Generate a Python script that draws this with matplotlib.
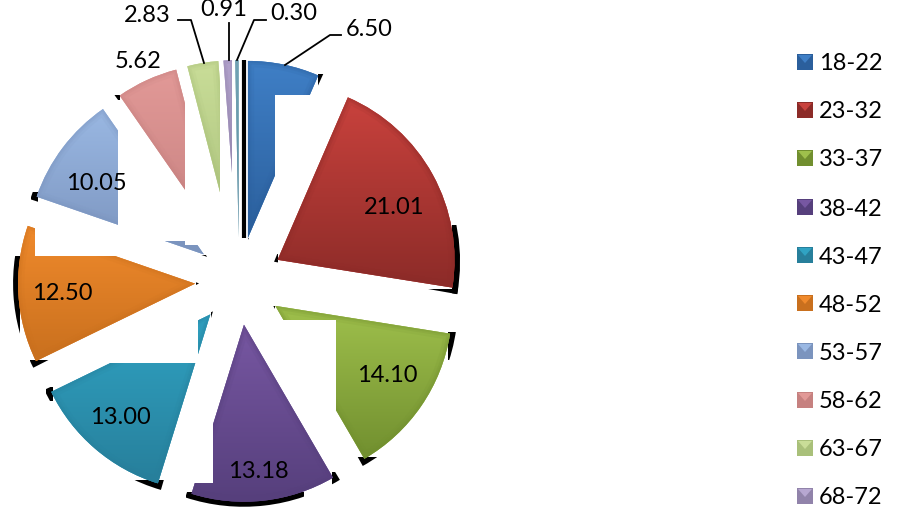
import matplotlib
matplotlib.use('Agg')
import matplotlib.pyplot as plt
from matplotlib.colors import to_rgb
from matplotlib.patches import Polygon, Rectangle, Wedge
import numpy as np

# data
legend_groups = ['18-22', '23-32', '33-37', '38-42', '43-47', '48-52', '53-57', '58-62', '63-67', '68-72']
values = [6.50, 21.01, 14.10, 13.18, 13.00, 12.50, 10.05, 5.62, 2.83, 0.91, 0.30]

# light / dark colour of each slice
tops = ['#3f7fc6', '#c9423d', '#9fc04c', '#7757a2', '#30a3c3', '#f08a2c', '#9ab8e3', '#e29997', '#c9dd98', '#b7a7d1', '#82b2c2']
bottoms = ['#2b5f9c', '#8c2b28', '#718f2f', '#563f7c', '#277f9b', '#c9701e', '#7b94be', '#c68180', '#a9c07a', '#9183aa', '#5f90a2']

W, H = 897, 519
cx, cy = 239, 281
radius = 177
gap = 44


def py(y):
    return H - y


# label positions in picture pixels
label_xy = [(369, 29), (394, 208), (387, 376), (258, 471), (120, 417), (62, 294),
            (96, 183), (138, 62), (147, 16), (224, 9), (294, 14)]
leaders = [[(341, 35), (330, 35), (285, 65)],
           [(266, 20), (254, 20), (237, 60)],
           [(229, 23), (229, 60)],
           [(178, 20), (191, 20), (204, 63)]]
# white blocks that cut into each slice (x0, y0, x1, y1)
cuts = {0: [(275, 95, 316, 178)],
        2: [(275, 320, 336, 410)],
        3: [(185, 400, 213, 483)],
        4: [(100, 300, 198, 363)],
        5: [(35, 220, 125, 256)],
        6: [(118, 100, 210, 241)],
        7: [(185, 55, 235, 245)],
        8: [(220, 50, 240, 245)],
        9: [(232, 50, 243, 245)],
        10: [(239, 50, 243, 245)]}
# where the black shadow shows
shadow_boxes = {0: [(318, 74, 325, 90), (248, 238, 257, 247)],
                1: [(452, 225, 464, 298), (395, 289, 464, 298), (271, 254, 278, 266)],
                2: [(448, 332, 458, 360), (355, 457, 382, 469), (269, 306, 275, 320)],
                3: [(332, 472, 341, 488), (186, 492, 304, 513)],
                4: [(46, 387, 53, 401), (134, 480, 167, 493), (211, 311, 216, 320)],
                5: [(10, 256, 20, 343), (30, 360, 50, 371), (196, 282, 201, 294)],
                6: [(31, 192, 38, 206), (199, 255, 210, 264)],
                7: [(114, 95, 120, 106)]}

fig = plt.figure(figsize=(W / 100, H / 100), dpi=100)
ax = fig.add_axes([0, 0, 1, 1])

wedges, _ = ax.pie(values, startangle=90, counterclock=False, radius=radius,
                   center=(cx, py(cy)), explode=[gap] * len(values), colors=tops, frame=False)
ax.set_xlim(0, W)
ax.set_ylim(0, H)
ax.set_aspect('auto')
ax.axis('off')

for i, w in enumerate(wedges):
    z = 10 + i * 5
    w.set_zorder(z)

    # shadow: slightly bigger black slice, only shown in a few places
    ang = np.radians((w.theta1 + w.theta2) / 2)
    sc = (w.center[0] - 4 * np.cos(ang), w.center[1] - 4 * np.sin(ang))
    for x0, y0, x1, y1 in shadow_boxes.get(i, []):
        s = Wedge(sc, radius + 9, w.theta1 - 1, w.theta2 + 1, fc='black', ec='none', zorder=1)
        ax.add_patch(s)
        s.set_clip_path(Rectangle((x0, py(y1)), x1 - x0, y1 - y0, transform=ax.transData))

    # vertical gradient over the slice
    bb = w.get_extents()
    t = np.array(to_rgb(tops[i]))
    b = np.array(to_rgb(bottoms[i]))
    k = np.linspace(0, 1, 128)[:, None]
    grad = (b * (1 - k) + t * k)[:, None, :]
    im = ax.imshow(grad, extent=(bb.x0, bb.x1, bb.y0, bb.y1), origin='lower', aspect='auto', zorder=z + 0.5)
    im.set_clip_path(w)

    # soft bevel round the edge
    for lw, a in [(9, 0.12), (5, 0.18), (2.5, 0.2)]:
        e = Wedge(w.center, radius, w.theta1, w.theta2, fc='none', ec=bottoms[i], lw=lw, alpha=a, zorder=z + 1)
        ax.add_patch(e)
        e.set_clip_path(w)

    for x0, y0, x1, y1 in cuts.get(i, []):
        ax.add_patch(Rectangle((x0, py(y1)), x1 - x0, y1 - y0, fc='white', ec='none', zorder=z + 3))

ax.set_xlim(0, W)
ax.set_ylim(0, H)

# black line next to the first slice
ax.plot([243.5, 243.5], [py(60), py(238)], color='black', lw=3, zorder=80, solid_capstyle='butt')

for seg in leaders:
    ax.plot([p[0] for p in seg], [py(p[1]) for p in seg], color='black', lw=1.3, zorder=80)

for v, (x, y) in zip(values, label_xy):
    ax.text(x, py(y), f'{v:.2f}', ha='center', va='center', fontsize=17, family='Lato', color='black', zorder=90)

# legend
row_y = [62, 110, 158, 207, 255, 303, 351, 400, 448, 496]
for i, (name, y) in enumerate(zip(legend_groups, row_y)):
    x0, s = 797, 16
    ax.add_patch(Rectangle((x0, py(y + s / 2)), s, s, fc=bottoms[i], ec='none', zorder=90))
    ax.add_patch(Polygon([(x0 + 1, py(y - s / 2 + 1)), (x0 + s - 1, py(y - s / 2 + 1)), (x0 + s / 2, py(y + 1))],
                         fc=tops[i], ec='none', zorder=91))
    ax.text(819, py(y + 2), name, ha='left', va='center', fontsize=17, family='Lato', color='black', zorder=90)

fig.savefig('out.png', dpi=100)
